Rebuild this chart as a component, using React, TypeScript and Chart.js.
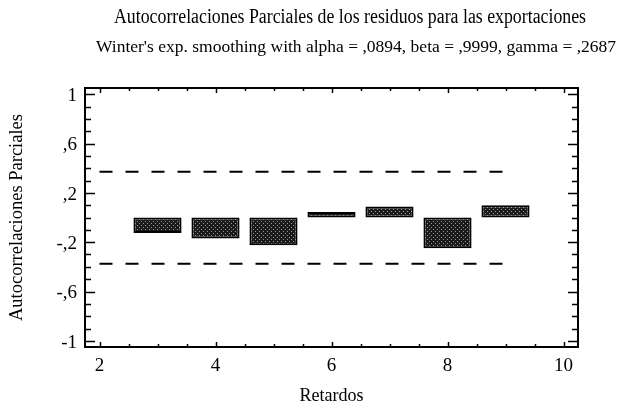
import { useEffect, useRef } from "react";
import { Chart, registerables } from "chart.js";

Chart.register(...registerables);

const titleText = "Autocorrelaciones Parciales de los residuos para las exportaciones";
const subtitleText = "Winter's exp. smoothing with alpha = ,0894, beta = ,9999, gamma = ,2687";
const xTitle = "Retardos";
const yTitle = "Autocorrelaciones Parciales";

const lags = [3, 4, 5, 6, 7, 8, 9];
const pacfValues = [-0.125, -0.17, -0.225, 0.045, 0.09, -0.25, 0.1];
const limitLags = [2, 9];
const upperLimit = [0.371, 0.371];
const lowerLimit = [-0.375, -0.375];

const xTickValues = [2, 4, 6, 8, 10];
const xTickLabels = ["2", "4", "6", "8", "10"];
const yTickValues = [-1, -0.6, -0.2, 0.2, 0.6, 1];
const yTickLabels = ["-1", "-,6", "-,2", ",2", ",6", "1"];

const FONT = "'Liberation Serif', 'DejaVu Serif', serif";

function makePattern(): CanvasPattern | string {
  const c = document.createElement("canvas");
  c.width = 4;
  c.height = 4;
  const g = c.getContext("2d");
  if (!g) return "#333";
  g.fillStyle = "#1a1a1a";
  g.fillRect(0, 0, 4, 4);
  g.fillStyle = "#9a9a9a";
  g.fillRect(1, 1, 1, 1);
  g.fillRect(3, 3, 1, 1);
  const p = g.createPattern(c, "repeat");
  return p || "#333";
}

const headerPlugin = {
  id: "header",
  afterDraw(chart: any) {
    const { ctx } = chart;
    ctx.save();
    ctx.fillStyle = "#000";
    ctx.textAlign = "center";
    ctx.textBaseline = "middle";
    ctx.save();
    ctx.translate(350, 18);
    ctx.scale(0.89, 1);
    ctx.font = `20px ${FONT}`;
    ctx.fillText(titleText, 0, 0);
    ctx.restore();
    ctx.font = `17.5px ${FONT}`;
    ctx.fillText(subtitleText, 356, 47);
    ctx.restore();
  },
};

const frameTicks = {
  id: "frameTicks",
  afterDraw(chart: any) {
    const { ctx, chartArea, scales } = chart;
    const { left, right, top, bottom } = chartArea;
    const x = scales.x;
    const y = scales.y;
    ctx.save();
    ctx.strokeStyle = "#000";
    ctx.lineWidth = 1.5;
    for (let i = -10; i <= 10; i++) {
      const v = i / 10;
      const py = Math.round(y.getPixelForValue(v)) + 0.5;
      const major = yTickValues.some((t) => Math.abs(t - v) < 1e-9);
      const len = major ? 10 : 6;
      ctx.beginPath();
      ctx.moveTo(left, py);
      ctx.lineTo(left + len, py);
      ctx.moveTo(right, py);
      ctx.lineTo(right - len, py);
      ctx.stroke();
    }
    for (let i = 4; i <= 20; i++) {
      const v = i / 2;
      const px = Math.round(x.getPixelForValue(v)) + 0.5;
      const major = xTickValues.includes(v);
      const len = major ? 5 : 3;
      ctx.beginPath();
      ctx.moveTo(px, bottom);
      ctx.lineTo(px, bottom - len);
      ctx.moveTo(px, top);
      ctx.lineTo(px, top + len);
      ctx.stroke();
    }
    ctx.lineWidth = 2;
    ctx.strokeRect(left, top, right - left, bottom - top);
    ctx.restore();
  },
};

export default function App() {
  const ref = useRef<HTMLCanvasElement | null>(null);

  useEffect(() => {
    if (!ref.current) return;
    const pattern = makePattern();
    const chart = new Chart(ref.current, {
      type: "bar",
      data: {
        datasets: [
          {
            type: "bar",
            data: lags.map((l, i) => ({ x: l, y: [0, pacfValues[i]] })) as any,
            backgroundColor: pattern as any,
            borderColor: "#000",
            borderWidth: 2,
            borderSkipped: false,
            barPercentage: 0.83,
            categoryPercentage: 1,
            order: 2,
          } as any,
          {
            type: "line",
            data: limitLags.map((l, i) => ({ x: l, y: upperLimit[i] })),
            borderColor: "#000",
            borderWidth: 2,
            borderDash: [13, 13],
            pointRadius: 0,
            fill: false,
            order: 1,
          } as any,
          {
            type: "line",
            data: limitLags.map((l, i) => ({ x: l, y: lowerLimit[i] })),
            borderColor: "#000",
            borderWidth: 2,
            borderDash: [13, 13],
            pointRadius: 0,
            fill: false,
            order: 1,
          } as any,
        ],
      },
      options: {
        animation: false,
        responsive: false,
        maintainAspectRatio: false,
        layout: { padding: { left: 0, right: 42, top: 88, bottom: 0 } },
        plugins: {
          legend: { display: false },
          tooltip: { enabled: false },
          title: { display: false },
          subtitle: { display: false },
        },
        scales: {
          x: {
            type: "linear",
            min: 1.75,
            max: 10.25,
            offset: false,
            grid: { display: false, drawTicks: false },
            border: { display: false },
            afterBuildTicks: (s: any) => {
              s.ticks = xTickValues.map((v) => ({ value: v }));
            },
            afterFit: (s: any) => {
              s.height = 60;
            },
            ticks: {
              autoSkip: false,
              maxRotation: 0,
              color: "#000",
              padding: 8,
              font: { family: FONT, size: 19 },
              callback: (v: any) => {
                const i = xTickValues.indexOf(Number(v));
                return i >= 0 ? xTickLabels[i] : "";
              },
            },
            title: {
              display: true,
              text: xTitle,
              color: "#000",
              font: { family: FONT, size: 18 },
              padding: { top: 4, bottom: 0 },
            },
          },
          y: {
            type: "linear",
            min: -1.05,
            max: 1.05,
            grid: { display: false, drawTicks: false },
            border: { display: false },
            afterBuildTicks: (s: any) => {
              s.ticks = yTickValues.map((v) => ({ value: v }));
            },
            afterFit: (s: any) => {
              s.width = 85;
            },
            ticks: {
              autoSkip: false,
              color: "#000",
              padding: 8,
              labelOffset: 2,
              font: { family: FONT, size: 19 },
              callback: (v: any) => {
                const i = yTickValues.findIndex((t) => Math.abs(t - Number(v)) < 1e-9);
                return i >= 0 ? yTickLabels[i] : "";
              },
            },
            title: {
              display: true,
              text: yTitle,
              color: "#000",
              font: { family: FONT, size: 18.5 },
              padding: { top: 6, bottom: 0 },
            },
          },
        },
      },
      plugins: [frameTicks, headerPlugin],
    });
    return () => chart.destroy();
  }, []);

  return (
    <div style={{ position: "absolute", left: 0, top: 0, width: 620, height: 407, background: "#fff" }}>
      <canvas ref={ref} width={620} height={407} style={{ display: "block", width: 620, height: 407 }} />
    </div>
  );
}
